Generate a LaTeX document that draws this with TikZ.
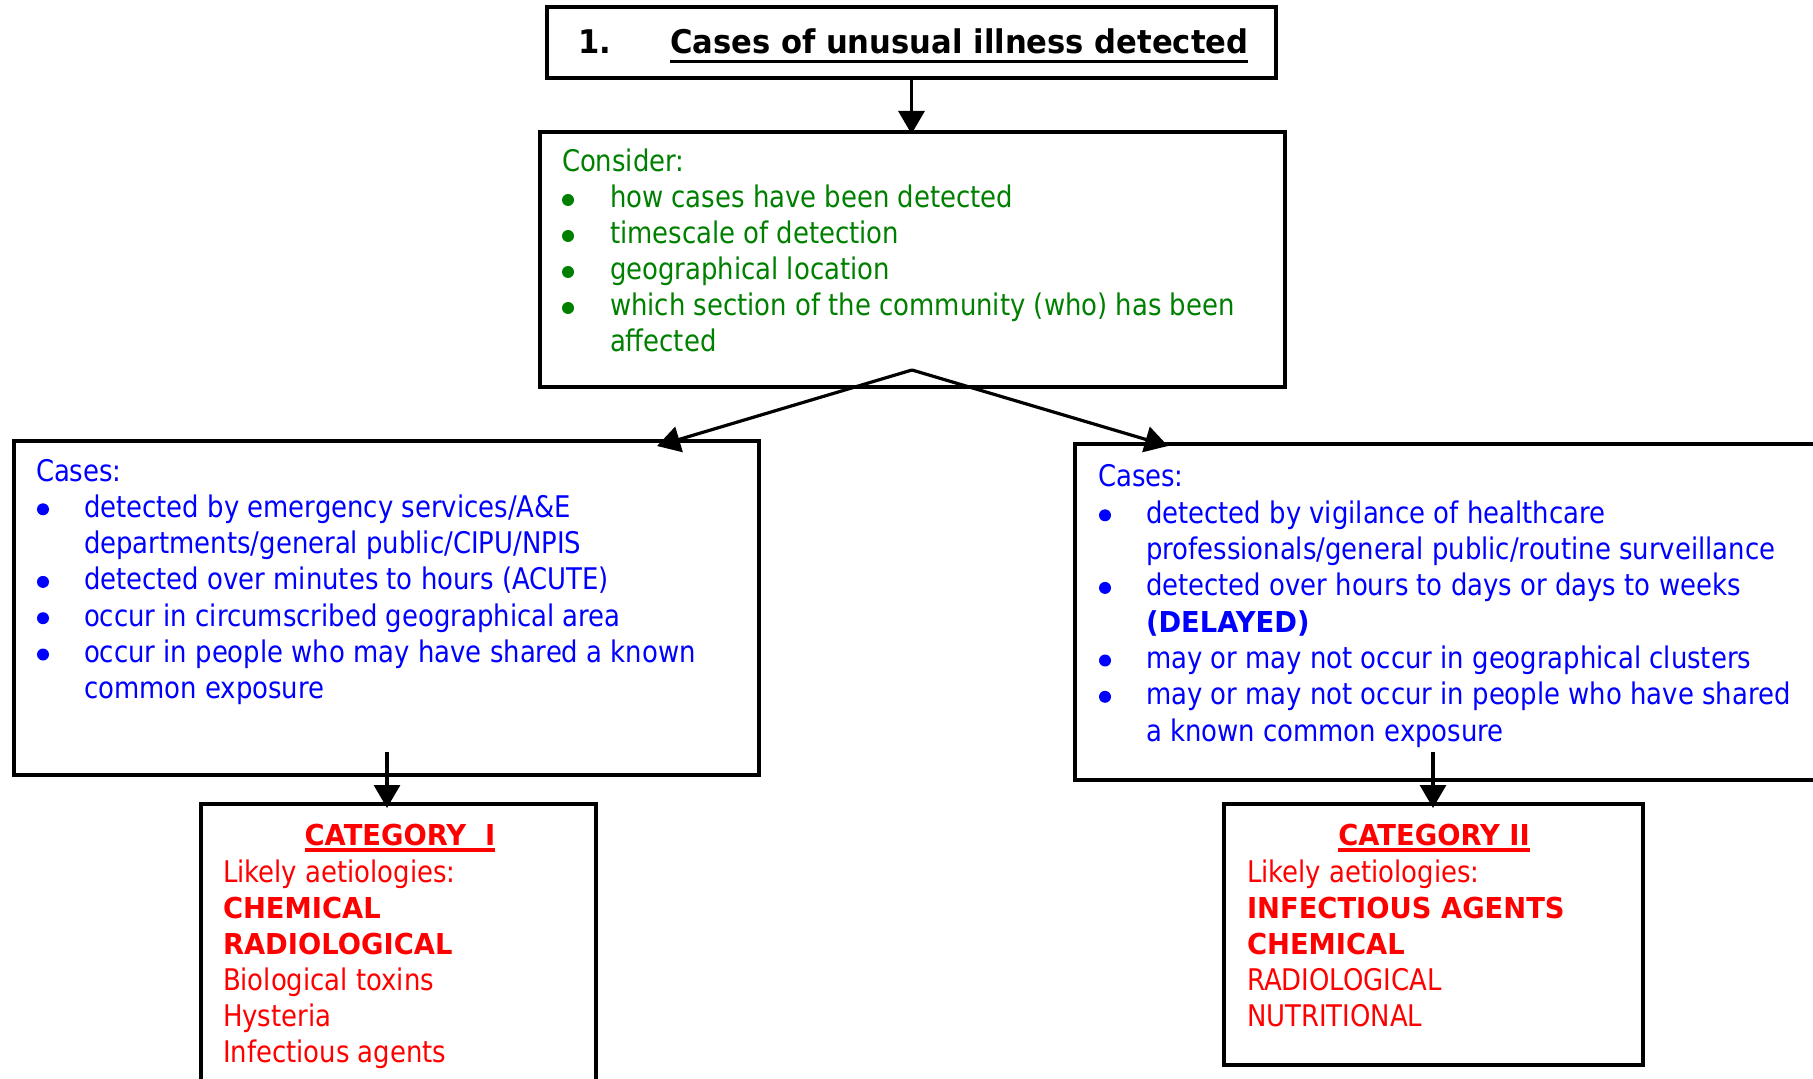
\documentclass[tikz,border=0pt]{standalone}
\usepackage{fontspec}
\setmainfont{DejaVu Sans}[FakeStretch=0.87]
\newfontfamily\heavyfont{DejaVu Sans}[FakeStretch=0.95]
\newfontfamily\headfont{DejaVu Sans}[FakeStretch=0.94]
\usetikzlibrary{arrows.meta,fit}

\definecolor{leafgreen}{RGB}{0,128,0}
\definecolor{inkblue}{RGB}{0,0,255}
\definecolor{alertred}{RGB}{255,0,0}

% text sizes
\newcommand\bodysize{\fontsize{14.9pt}{18pt}\selectfont}
\newcommand\bluesize{\fontsize{14.9pt}{18.15pt}\selectfont}
\newcommand\heavy[1]{{\heavyfont\bfseries\fontsize{14.4pt}{18pt}\selectfont #1}}
% indent of list items (the bullet dots are drawn separately)
\newcommand\cont{\hspace*{24pt}}

\begin{document}
\begin{tikzpicture}[x=0.5pt, y=-0.5pt,
  frame/.style={draw, line width=1.8pt, inner sep=0pt, outer sep=0pt},
  txt/.style={inner sep=0pt, outer sep=0pt, anchor=base west},
  link/.style={line width=1.6pt, -{Triangle[length=11.5pt,width=13pt]}},
  uline/.style={line width=#1}]
\useasboundingbox (0,0) rectangle (1813,1079);
\clip (0,0) rectangle (1813,1079);

% boxes
\node[frame, fit={(547,7) (1276,78)}] (head) {};
\node[frame, fit={(540,132) (1285,387)}] (consider) {};
\node[frame, fit={(14,441) (759,775)}] (acute) {};
\node[frame, fit={(1075,444) (1840,780)}] (delayed) {};
\node[frame, fit={(201,804) (596,1110)}] (catA) {};
\node[frame, fit={(1224,804) (1643,1065)}] (catB) {};

% connectors
\coordinate (apex) at (912,370);
\coordinate (acuteIn) at (657,446);
\coordinate (delayedIn) at (1168,446);
\coordinate (acuteOut) at (387,752);
\coordinate (delayedOut) at (1433,752);
\draw[link] (head.south) -- ([yshift=-1pt]head.south |- consider.north);
\draw[link] (apex) -- (acuteIn);
\draw[link] (apex) -- (delayedIn);
\draw[link] (acuteOut) -- ([yshift=-2pt]acuteOut |- catA.north);
\draw[link] (delayedOut) -- ([yshift=-2pt]delayedOut |- catB.north);

% heading
\node[txt, font={\headfont\bfseries\fontsize{16.3pt}{19pt}\selectfont}] (num) at (578,54) {1.};
\node[txt, font={\headfont\bfseries\fontsize{16.3pt}{19pt}\selectfont}] (title) at (670,54) {Cases of unusual illness detected};
\draw[uline=1.6pt] ([yshift=-3.6pt]title.base west) -- ([yshift=-3.6pt]title.base east);

% consider list
\node[txt, text=leafgreen] (considerTxt) at (562,172) {\parbox[t]{420pt}{\bodysize
Consider:\\
\cont how cases have been detected\\
\cont timescale of detection\\
\cont geographical location\\
\cont which section of the community (who) has been\\
\cont affected}};
\foreach \k in {1,2,3,4}
  \fill[leafgreen] (568,{172+36*\k-8}) circle[radius=3pt];

% acute cases
\node[txt, text=inkblue] (acuteTxt) at (36,481) {\parbox[t]{420pt}{\bluesize
Cases:\\
\cont detected by emergency services/A\&E\\
\cont departments/general public/CIPU/NPIS\\
\cont detected over minutes to hours (ACUTE)\\
\cont occur in circumscribed geographical area\\
\cont occur in people who may have shared a known\\
\cont common exposure}};
\foreach \k in {1,3,4,5}
  \fill[inkblue] (43,{481+36.3*\k-8}) circle[radius=3pt];

% delayed cases
\node[txt, text=inkblue] (delayedTxt) at (1098,487) {\parbox[t]{420pt}{\bluesize
Cases:\\
\cont detected by vigilance of healthcare\\
\cont professionals/general public/routine surveillance\\
\cont detected over hours to days or days to weeks\\
\cont \heavy{(DELAYED)}\\
\cont may or may not occur in geographical clusters\\
\cont may or may not occur in people who have shared\\
\cont a known common exposure}};
\foreach \k in {1,3,5,6}
  \fill[inkblue] (1105,{487+36.3*\k-8}) circle[radius=3pt];

% category I
\node[anchor=base, inner sep=0pt, outer sep=0pt, text=alertred, font={\heavyfont\bfseries\fontsize{14.4pt}{18pt}\selectfont}] (catAhead) at (400,845) {CATEGORY~~I};
\draw[uline=2pt, alertred] ([yshift=-2.4pt]catAhead.base west) -- ([yshift=-2.4pt]catAhead.base east);
\node[txt, text=alertred] (catAtxt) at (223,882) {\parbox[t]{300pt}{\bodysize
Likely aetiologies:\\
\heavy{CHEMICAL}\\
\heavy{RADIOLOGICAL}\\
Biological toxins\\
Hysteria\\
Infectious agents}};

% category II
\node[anchor=base, inner sep=0pt, outer sep=0pt, text=alertred, font={\heavyfont\bfseries\fontsize{14.4pt}{18pt}\selectfont}] (catBhead) at (1434,845) {CATEGORY II};
\draw[uline=2pt, alertred] ([yshift=-2.4pt]catBhead.base west) -- ([yshift=-2.4pt]catBhead.base east);
\node[txt, text=alertred] (catBtxt) at (1247,882) {\parbox[t]{300pt}{\bodysize
Likely aetiologies:\\
\heavy{INFECTIOUS AGENTS}\\
\heavy{CHEMICAL}\\
RADIOLOGICAL\\
NUTRITIONAL}};
\end{tikzpicture}
\end{document}
